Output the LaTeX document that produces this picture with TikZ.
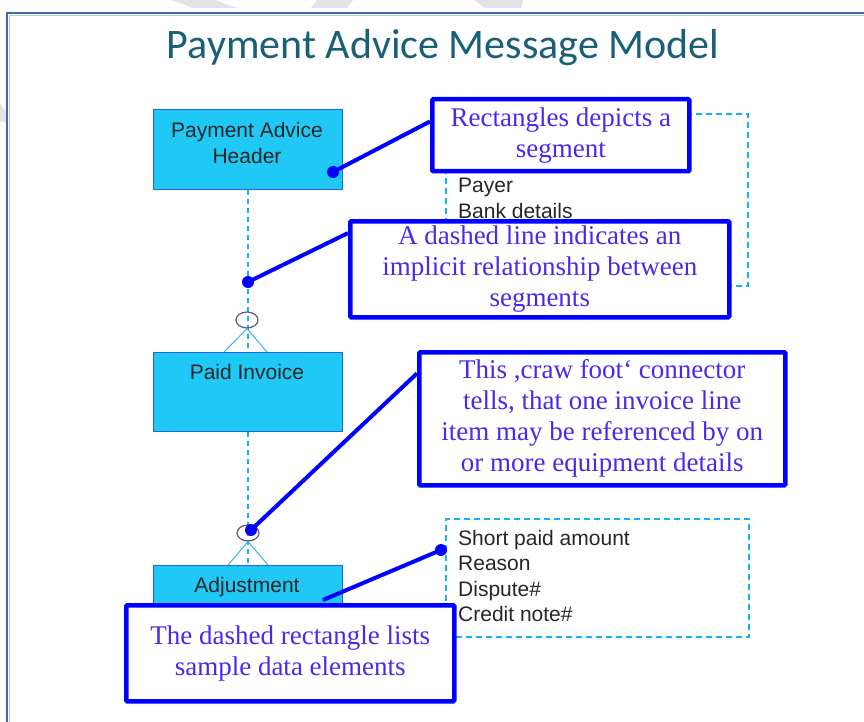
\documentclass[tikz,border=0pt]{standalone}
\usepackage{fontspec}
\setmainfont{Liberation Serif}
\newfontfamily\titlefont{Carlito}
\newfontfamily\boxfont{Liberation Sans}
\usetikzlibrary{calc,shapes.geometric}
\definecolor{cyanfill}{RGB}{32,200,245}
\definecolor{boxborder}{RGB}{30,100,230}
\definecolor{dashblue}{RGB}{20,180,240}
\definecolor{callblue}{RGB}{0,0,255}
\definecolor{calltext}{RGB}{75,40,235}
\definecolor{titlecol}{RGB}{25,95,120}
\definecolor{framecol}{RGB}{60,110,165}
\definecolor{ellcol}{RGB}{90,90,130}
\definecolor{crowcol}{RGB}{60,180,230}
\tikzset{
  segbox/.style={draw=boxborder, line width=1pt, fill=cyanfill, minimum width=189pt, inner sep=0pt},
  segtext/.style={font=\boxfont\fontsize{21}{26}\selectfont, text=black!85, align=center, inner sep=0pt},
  listbox/.style={draw=dashblue, line width=2pt, dash pattern=on 6pt off 4pt},
  listtext/.style={font=\boxfont\fontsize{21}{25.5}\selectfont, text=black!85, align=left, anchor=north west, inner sep=0pt},
  callout/.style={draw=callblue, line width=4.5pt, fill=white, rounded corners=1pt, inner sep=0pt,
    font=\fontsize{27}{31}\selectfont, text=calltext, align=center},
  pointer/.style={draw=callblue, line width=4pt},
  dotmark/.style={circle, fill=callblue, minimum size=12pt, inner sep=0pt},
  relline/.style={draw=dashblue, line width=1.4pt, dash pattern=on 5pt off 4pt},
  crowfoot/.style={ellipse, draw=ellcol, line width=1.2pt, minimum width=22pt, minimum height=16pt, inner sep=0pt},
  crowline/.style={draw=crowcol, line width=1pt},
}
\begin{document}
\begin{tikzpicture}[x=1pt,y=-1pt]
\useasboundingbox (0,0) rectangle (864,722);
% watermark fragments
\fill[gray!22] (171,0) -- (215,0) -- (237,8) -- (193,8) -- cycle;
\fill[gray!22] (317,0) -- (353,0) -- (347,8) -- (311,8) -- cycle;
\fill[gray!22] (474,0) -- (523,0) -- (521,8) -- (485,8) -- cycle;
\fill[gray!22] (0,103) -- (6,112) -- (6,122) -- (0,122) -- cycle;
% frame
\draw[framecol, line width=2pt] (7,722) -- (7,13) -- (864,13);
\draw[framecol!35, line width=1pt] (9,722) -- (9,15.5) -- (864,15.5);
% title
\node[font=\titlefont\fontsize{42}{44}\selectfont, text=titlecol, inner sep=0pt] (title) at (443,48) {Payment Advice Message Model};
% list boxes
\node[listbox, minimum width=302pt, minimum height=172pt, anchor=north west, inner sep=0pt] (list1) at (445,113) {};
\node[listtext] (l1t) at (458,178) {Payer\\Bank details};
\node[listbox, minimum width=303pt, minimum height=118pt, anchor=north west, inner sep=0pt] (list2) at (445,518) {};
\node[listtext] (l2t) at (458,530) {Short paid amount\\Reason\\Dispute\#\\Credit note\#};
% segment boxes
\node[segbox, minimum height=80pt, anchor=north west] (hdr) at (153,109) {};
\node[segtext] (hdrt) at (247,143) {Payment Advice\\Header};
\node[segbox, minimum height=79pt, anchor=north west] (pi) at (153,352) {};
\node[segtext] (pit) at (247,372) {Paid Invoice};
\node[segbox, minimum height=50pt, anchor=north west] (adj) at (153,565) {};
\node[segtext] (adjt) at (247,587) {Adjustment};
% relationship lines
\draw[relline] (hdr.south) -- (pi.north);
\draw[relline] (pi.south) -- (adj.north);
% crow feet
\node[crowfoot] (cf1) at (247,320) {};
\coordinate (cf1l) at (224,352);
\coordinate (cf1r) at (267,352);
\draw[crowline] (cf1l) -- (cf1.south) -- (cf1r);
\node[crowfoot] (cf2) at (248,533) {};
\coordinate (cf2l) at (228,565);
\coordinate (cf2r) at (268,565);
\draw[crowline] (cf2l) -- (cf2.south) -- (cf2r);
% callouts
\node[callout, minimum width=257pt, minimum height=72pt, anchor=north west] (co1) at (430,97) {Rectangles depicts a\\segment};
\node[dotmark] (d1) at (333,172) {};
\draw[pointer] ($(co1.north west)!0.32!(co1.south west)$) -- (d1.center);
\node[callout, minimum width=379pt, minimum height=96pt, anchor=north west] (co2) at (348,219) {A dashed line indicates an\\implicit relationship between\\segments};
\node[dotmark] (d2) at (248,282) {};
\draw[pointer] ($(co2.north west)!0.14!(co2.south west)$) -- (d2.center);
\node[callout, minimum width=366pt, minimum height=133pt, anchor=north west] (co3) at (417,350) {This ,craw foot‘ connector\\tells, that one invoice line\\item may be referenced by on\\or more equipment details};
\node[dotmark] (d3) at (251,530) {};
\draw[pointer] ($(co3.north west)!0.17!(co3.south west)$) -- (d3.center);
\node[dotmark] (d4) at (441,550) {};
\coordinate (p4) at (323,600);
\draw[pointer] (p4) -- (d4.center);
\node[callout, minimum width=328pt, minimum height=96pt, anchor=north west] (co4) at (124,603) {The dashed rectangle lists\\sample data elements};
\end{tikzpicture}
\end{document}
